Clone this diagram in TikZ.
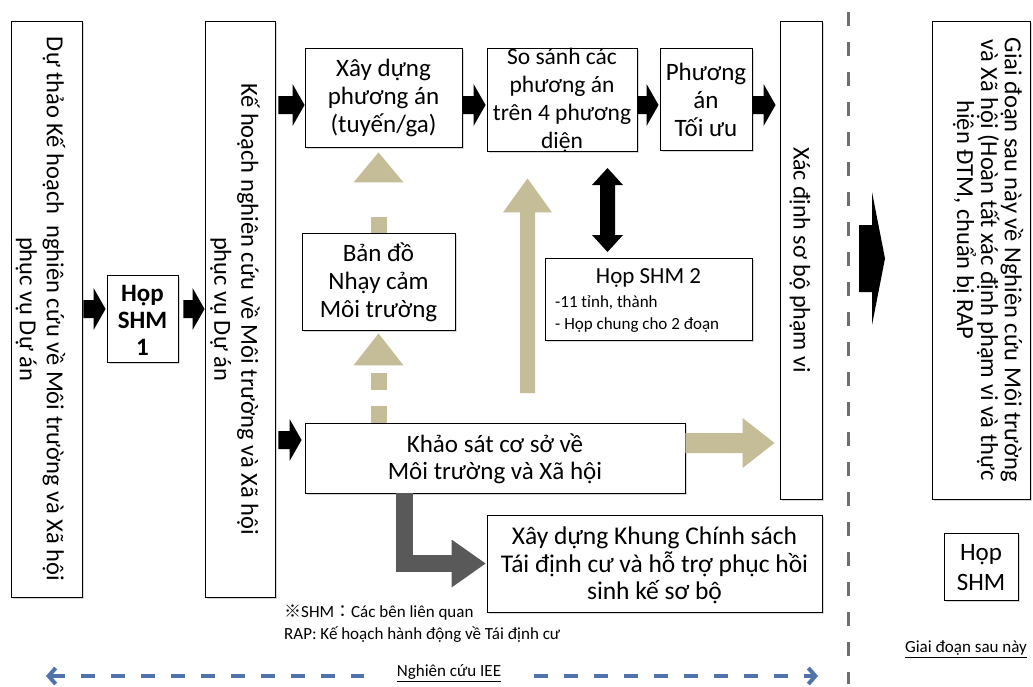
\documentclass[tikz,border=0pt]{standalone}
\usepackage{fontspec}
\setmainfont{Carlito}
\newfontfamily\cjk{Noto Sans CJK JP}
\usetikzlibrary{calc,shadows,arrows.meta}
\definecolor{tanc}{RGB}{196,189,151}
\definecolor{dg}{RGB}{89,89,89}
\definecolor{blu}{RGB}{79,115,170}
\definecolor{sepc}{RGB}{110,110,110}
\tikzset{
  box/.style={draw=black, line width=0.9pt, fill=white, inner sep=0pt,
    drop shadow={shadow xshift=2pt, shadow yshift=-2pt, opacity=0.3}},
  txt/.style={align=center, inner sep=0pt, font=\fontsize{25}{28}\selectfont},
  vtxt/.style={align=center, inner sep=0pt, rotate=-90, font=\fontsize{24.5}{27}\selectfont},
  note/.style={align=left, inner sep=0pt, font=\fontsize{17}{22}\selectfont},
  bluline/.style={draw=blu, line width=4pt, dash pattern=on 14pt off 16pt},
  sepline/.style={draw=sepc, line width=3pt, dash pattern=on 14pt off 16pt},
}
% block arrow: #1 fill style, #2 start, #3 tip, #4 shaft half width, #5 head half width, #6 head length
\newcommand\barrow[6]{%
  \path ($(#3)!#6!(#2)$) coordinate (bah);
  \fill[#1] ($(#2)!#4!90:(#3)$) -- ($(bah)!#4!90:(#3)$) -- ($(bah)!#5!90:(#3)$) -- (#3)
    -- ($(bah)!#5!-90:(#3)$) -- ($(bah)!#4!-90:(#3)$) -- ($(#2)!#4!-90:(#3)$) -- cycle;
}
% arrow head only
\newcommand\ahead[5]{%
  \path ($(#3)!#5!(#2)$) coordinate (bah);
  \fill[#1] ($(bah)!#4!90:(#3)$) -- (#3) -- ($(bah)!#4!-90:(#3)$) -- cycle;
}
\begin{document}
\begin{tikzpicture}[x=1pt,y=-1pt]
\useasboundingbox (0,0) rectangle (1033,686);
\fill[white] (0,0) rectangle (1033,686);

% ---------- boxes ----------
\node[box, minimum width=71pt, minimum height=576pt] (b1) at (46.5,309) {};
\node[vtxt] at ($(b1)+(-6,0)$) {Dự thảo Kế hoạch\ \ nghiên cứu về Môi trường và Xã hội\\phục vụ Dự án};

\node[box, minimum width=71pt, minimum height=87pt] (s1) at (142.5,318.5) {};
\node[txt, font=\fontsize{25}{27}\selectfont\bfseries] at ($(s1)+(0,2)$) {Họp\\SHM\\1};

\node[box, minimum width=70pt, minimum height=576pt] (b3) at (240,309) {};
\node[vtxt] at ($(b3)+(-5,0)$) {Kế hoạch nghiên cứu về Môi trường và Xã hội\\phục vụ Dự án};

\node[box, minimum width=157pt, minimum height=99pt] (xd) at (383.5,97.5) {};
\node[txt] at (xd) {Xây dựng\\phương án\\(tuyến/ga)};

\node[box, minimum width=150pt, minimum height=103pt] (ss) at (562,99.5) {};
\node[txt, font=\fontsize{23.5}{28}\selectfont] at ($(ss)+(0,1)$) {So sánh các\\phương án\\trên 4 phương\\diện};

\node[box, minimum width=92pt, minimum height=102pt] (pa) at (706,99) {};
\node[txt] at ($(pa)+(0,1)$) {Phương\\án\\Tối ưu};

\node[box, minimum width=42pt, minimum height=478pt] (xv) at (801,260) {};
\node[vtxt, font=\fontsize{24}{27}\selectfont] at ($(xv)+(-1,0)$) {Xác định sơ bộ phạm vi};

\node[box, minimum width=153pt, minimum height=97pt] (bd) at (378.5,281.5) {};
\node[txt] at ($(bd)+(0,1)$) {Bản đồ\\Nhạy cảm\\Môi trường};

\node[box, minimum width=207pt, minimum height=82pt] (h2) at (648.5,299) {};
\node[txt, font=\fontsize{23}{27}\selectfont] at (648.5,278) {Họp SHM 2};
\node[note, anchor=west, font=\fontsize{17}{21.5}\selectfont] at (555,314) {-11 tỉnh, thành\\- Họp chung cho 2 đoạn};

\node[box, minimum width=380pt, minimum height=70pt] (ks) at (495,458) {};
\node[txt, font=\fontsize{25}{27}\selectfont] at ($(ks)+(0,1)$) {Khảo sát cơ sở về\\Môi trường và Xã hội};

\node[box, minimum width=335pt, minimum height=97pt] (xk) at (654.5,563.5) {};
\node[txt, font=\fontsize{25.5}{27.5}\selectfont] at ($(xk)+(0,2)$) {Xây dựng Khung Chính sách\\Tái định cư và hỗ trợ phục hồi\\sinh kế sơ bộ};

\node[box, minimum width=98pt, minimum height=478pt] (gd) at (981,260) {};
\node[vtxt, font=\fontsize{24.5}{21}\selectfont] at (988,260) {Giai đoạn sau này về Nghiên cứu Môi trường\\và Xã hội (Hoàn tất xác định phạm vi và thực\\hiện ĐTM, chuẩn bị RAP\hspace*{80pt}};

\node[box, minimum width=74pt, minimum height=67pt] (hs) at (981,566.5) {};
\node[txt, font=\fontsize{25}{30}\selectfont] at ($(hs)+(0,1)$) {Họp\\SHM};

% ---------- notes ----------
\node[note, anchor=west] (nt) at (284,624) {{\cjk ※}SHM{\cjk ：}Các bên liên quan\\RAP: Kế hoạch hành động về Tái định cư};
\node[note, inner xsep=33pt, inner ysep=3pt] (iee) at (449,673) {\underline{Nghiên cứu IEE}};
\node[note] (gs) at (966,649) {\underline{Giai đoạn sau này}};

% ---------- separator ----------
\coordinate (septop) at (848,12);
\coordinate (sepbot) at (848,684);
\draw[sepline] (septop) -- (sepbot);

% ---------- IEE arrow ----------
\coordinate (ieeL) at (46,676);
\coordinate (ieeR) at (818,676);
\draw[bluline, {Straight Barb[length=7pt,width=16pt]}-] (ieeL) -- (iee.west |- ieeL);
\draw[bluline, -{Straight Barb[length=7pt,width=16pt]}] (iee.east |- ieeR) -- (ieeR);

% ---------- black flow arrows ----------
\coordinate (yT) at (0,105);
\coordinate (yK) at (0,440);
\coordinate (a1s) at ($(b1.east)+(1,0)$);
\coordinate (a1e) at ($(s1.west |- b1.east)+(-1,0)$);
\barrow{black}{a1s}{a1e}{9pt}{21pt}{12pt}
\coordinate (a2s) at ($(s1.east |- b1.east)+(5,0)$);
\coordinate (a2e) at ($(b3.west)+(0,0)$);
\barrow{black}{a2s}{a2e}{9pt}{21pt}{12pt}
\coordinate (a3s) at ($(b3.east |- yT)+(3,0)$);
\coordinate (a3e) at ($(xd.west |- yT)+(0,0)$);
\barrow{black}{a3s}{a3e}{9pt}{21pt}{12pt}
\coordinate (a4s) at ($(xd.east |- yT)+(0,0)$);
\coordinate (a4e) at ($(ss.west |- yT)+(-1,0)$);
\barrow{black}{a4s}{a4e}{9pt}{21pt}{12pt}
\coordinate (a5s) at ($(ss.east |- yT)+(0,0)$);
\coordinate (a5e) at ($(pa.west |- yT)+(-1,0)$);
\barrow{black}{a5s}{a5e}{9pt}{21pt}{12pt}
\coordinate (a6s) at ($(pa.east |- yT)+(0,0)$);
\coordinate (a6e) at ($(xv.west |- yT)+(-4,0)$);
\barrow{black}{a6s}{a6e}{9pt}{21pt}{12pt}
\coordinate (a7s) at ($(b3.east |- yK)+(3,0)$);
\coordinate (a7e) at ($(ks.west |- yK)+(-3,0)$);
\barrow{black}{a7s}{a7e}{9pt}{21pt}{12pt}

% big arrow to later phase
\coordinate (bgs) at (859,258.5);
\coordinate (bge) at (885,258.5);
\barrow{black}{bgs}{bge}{33.5pt}{66.5pt}{13pt}

% double arrow So sanh <-> Hop SHM 2
\coordinate (dbt) at (607.5,168);
\coordinate (dbb) at (607.5,252);
\coordinate (dbm) at (607.5,210);
\barrow{black}{dbm}{dbt}{7.5pt}{15.5pt}{17pt}
\barrow{black}{dbm}{dbb}{7.5pt}{15.5pt}{17pt}

% ---------- tan arrows ----------
% dashed: Ban do -> Xay dung
\coordinate (t1s) at (bd.north);
\coordinate (t1e) at ($(bd.north |- xd.south)+(0,5)$);
\coordinate (t1h) at ($(t1e)+(0,30)$);
\draw[tanc, line width=16pt, dash pattern=on 16pt off 40pt] (t1s) -- (t1h);
\ahead{tanc}{t1s}{t1e}{25pt}{30pt}
% dashed: Khao sat -> Ban do
\coordinate (t2s) at (bd.south |- ks.north);
\coordinate (t2e) at ($(bd.south)+(0,3)$);
\coordinate (t2h) at ($(t2e)+(0,32)$);
\draw[tanc, line width=16pt, dash pattern=on 17pt off 16pt] (t2s) -- (t2h);
\ahead{tanc}{t2s}{t2e}{25pt}{32pt}
% solid up to So sanh
\coordinate (t3s) at (527.5,393);
\coordinate (t3e) at ($(ss.south -| t3s)+(0,27)$);
\barrow{tanc}{t3s}{t3e}{7.5pt}{24.5pt}{34pt}
% right to Xac dinh
\coordinate (t4s) at ($(ks.east)+(0,-15)$);
\coordinate (t4e) at ($(xv.west |- t4s)+(-5,0)$);
\barrow{tanc}{t4s}{t4e}{10pt}{25pt}{32pt}

% ---------- dark elbow arrow ----------
\coordinate (els) at (404.5,493);
\coordinate (ele) at ($(xk.west)+(-1,0)$);
\coordinate (elh) at ($(ele)+(-34,0)$);
\draw[dg, line width=17pt] (els) |- (elh);
\ahead{dg}{elh}{ele}{24pt}{34pt}
\end{tikzpicture}
\end{document}
